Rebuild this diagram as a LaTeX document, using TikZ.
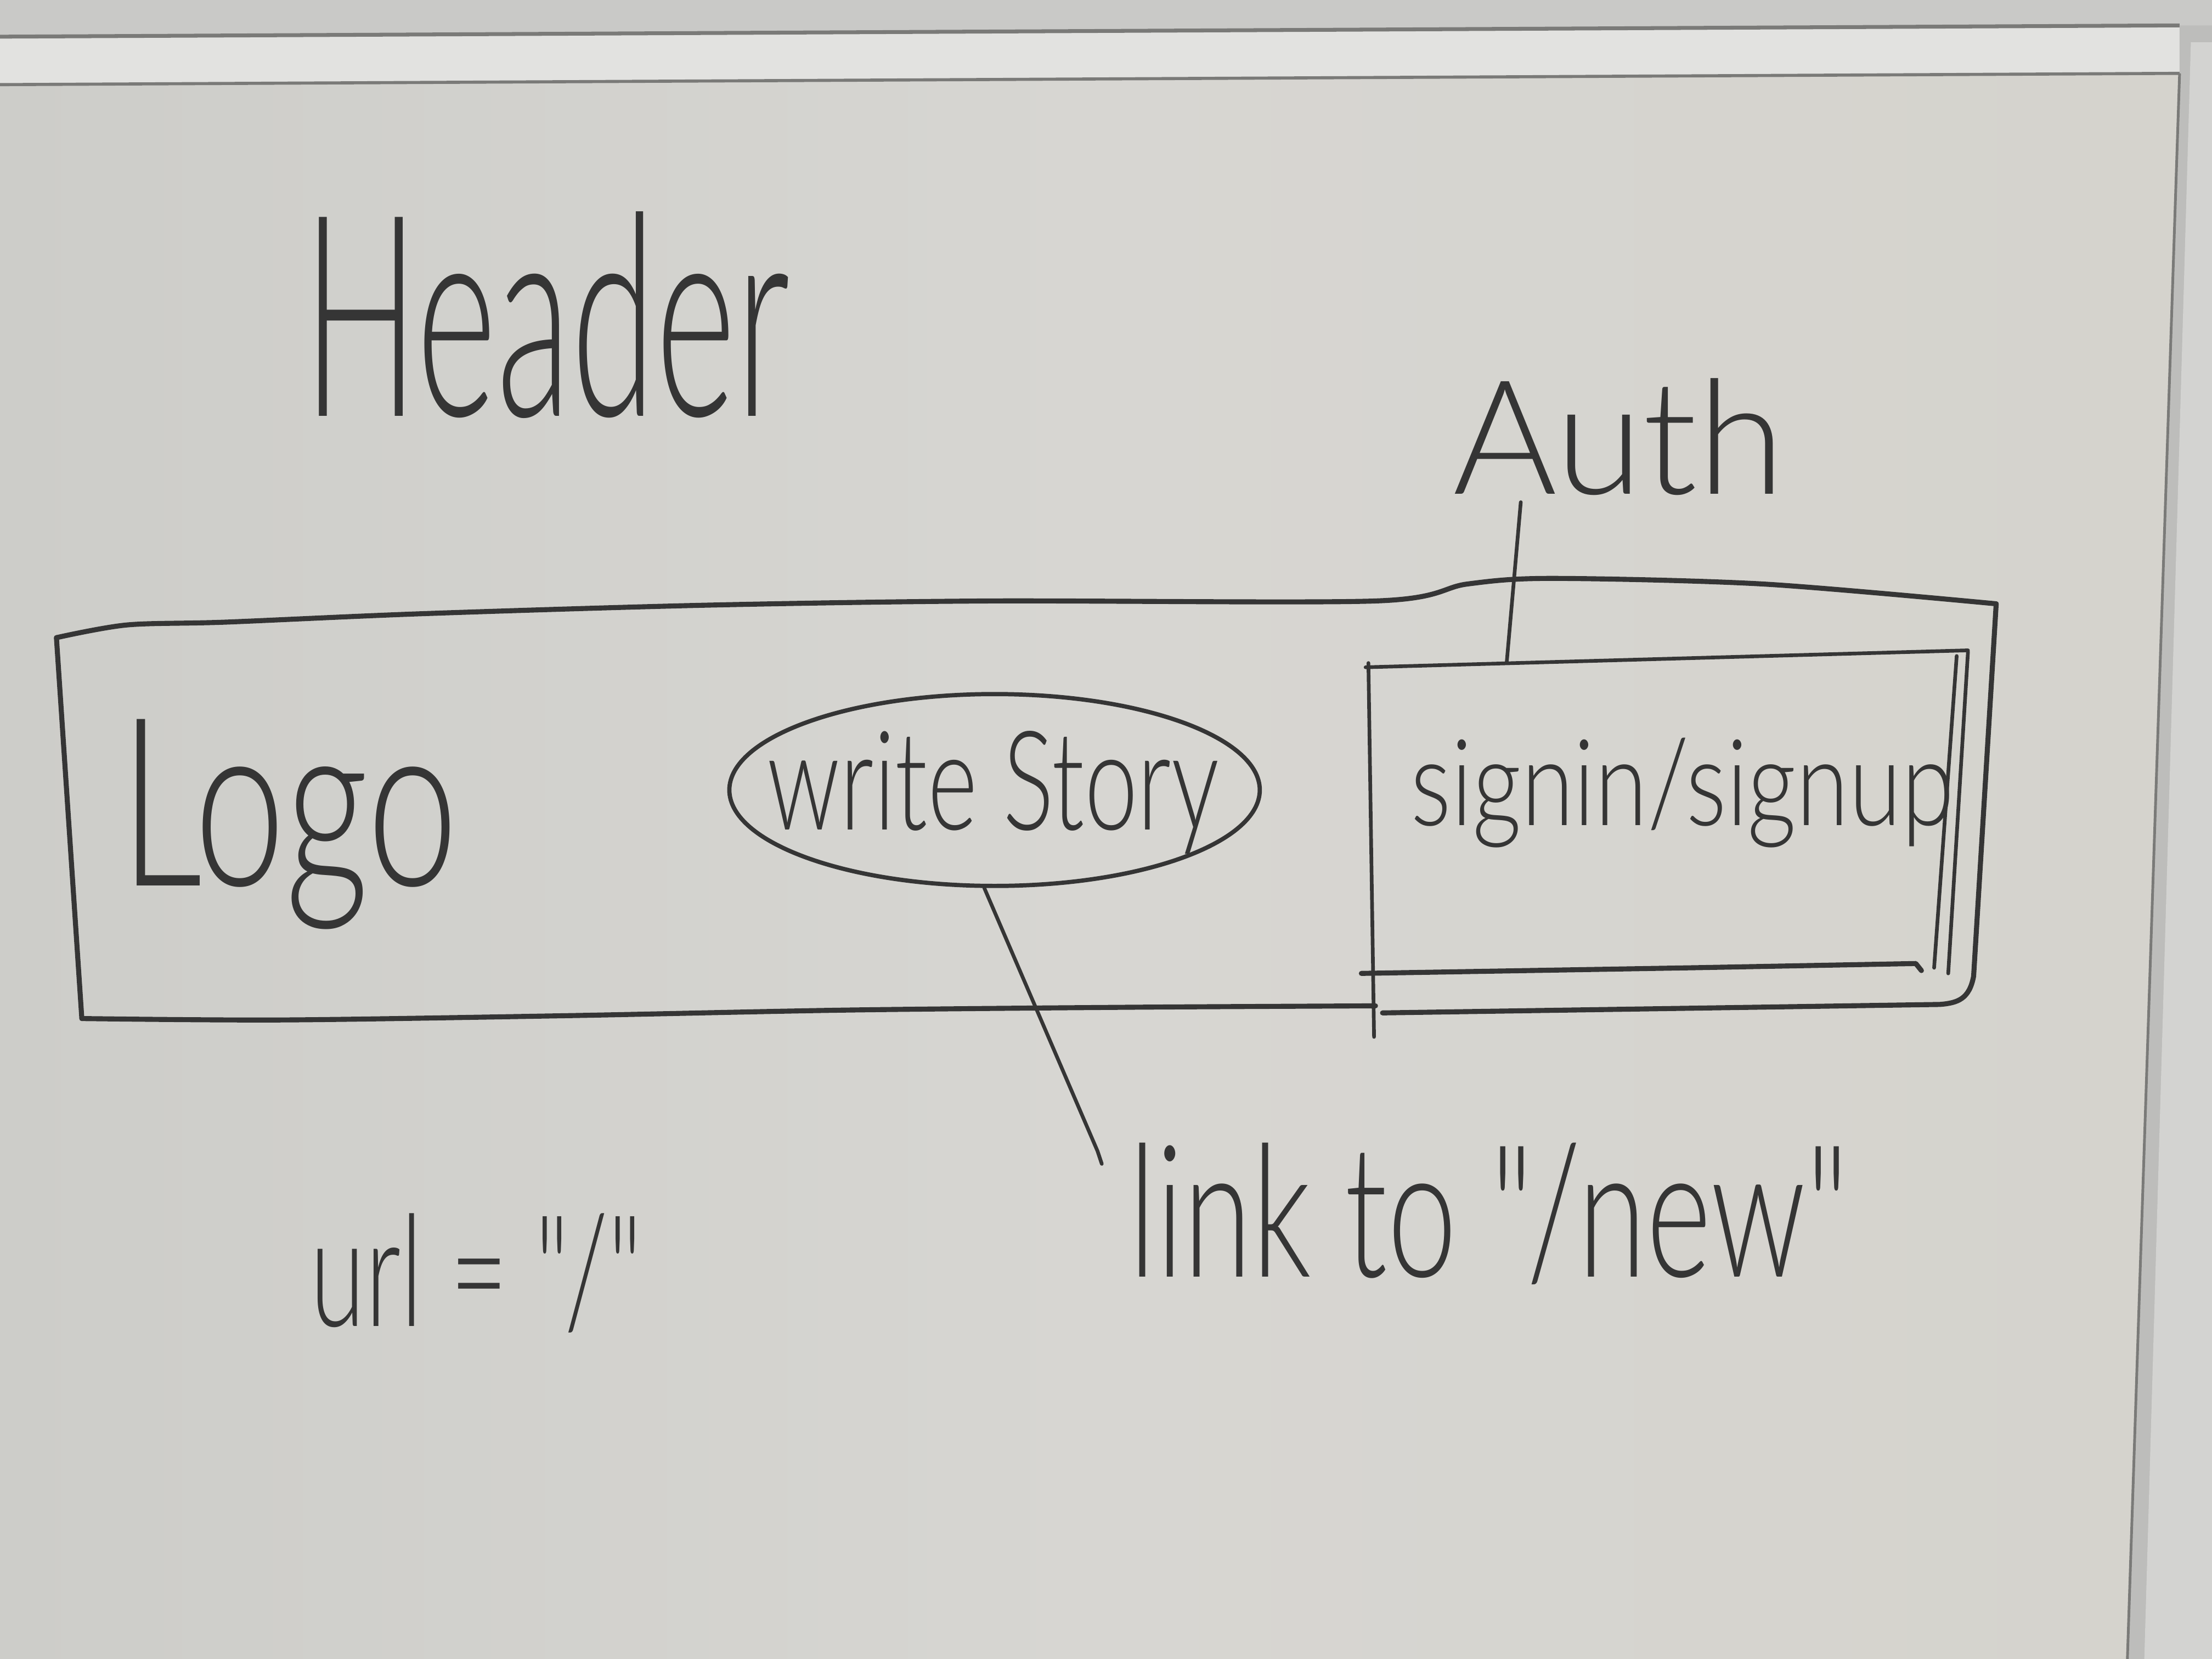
\documentclass[tikz,border=0pt]{standalone}
\usepackage{fontspec}
\usepackage{graphicx}
\setmainfont{Lato}[UprightFont=* Light, Ligatures=TeXOff]
\usetikzlibrary{shapes.geometric}
\newlength\px
\setlength\px{0.02571cm}
% handwritten word: width, height above baseline, text
\newcommand\hw[3]{\resizebox{#1\px}{#2\px}{\fontsize{#2}{#2}\selectfont #3}}
\definecolor{inkc}{HTML}{353535}
\definecolor{wallc}{HTML}{C9C9C7}
\definecolor{boardl}{HTML}{CDCDC9}
\definecolor{boardm}{HTML}{D7D6D2}
\definecolor{boardr}{HTML}{D5D3CD}
\definecolor{silver}{HTML}{E2E2E0}
\definecolor{framedk}{HTML}{7A7A78}
\definecolor{framer}{HTML}{BDBDBB}
\begin{document}
\begin{tikzpicture}[x=0.02571cm,y=-0.02571cm,
  ink/.style={draw=inkc, line width=2.6pt, line cap=round, line join=round},
  fine/.style={draw=inkc, line width=1.9pt, line cap=round, line join=round},
  hand/.style={inner sep=0pt, outer sep=0pt, anchor=base west, text=inkc}]
\useasboundingbox (0,0) rectangle (1568,1176);

% wall and whiteboard surface
\fill[wallc] (0,0) rectangle (1568,1176);
\shade[left color=boardl, right color=boardr, middle color=boardm]
  (0,60) -- (1545,52) -- (1508,1176) -- (0,1176) -- cycle;

% aluminium frame, top and right
\fill[silver] (0,26) -- (1545,18) -- (1545,52) -- (0,60) -- cycle;
\draw[framedk, line width=2pt] (0,26) -- (1545,18);
\draw[framedk, line width=1.6pt] (0,60) -- (1545,52);
\fill[framer] (1545,18) -- (1568,18) -- (1568,1176) -- (1508,1176) -- (1545,52) -- cycle;
\draw[framedk, line width=1.4pt] (1545,52) -- (1508,1176);
\fill[silver, opacity=0.6] (1553,30) -- (1568,30) -- (1568,1176) -- (1520,1176) -- cycle;

% outer header box
\draw[ink] plot[smooth, tension=0.5] coordinates
  {(40,452) (90,443) (160,441) (300,435) (500,429) (700,426) (975,426)
   (1040,414) (1100,410) (1250,414) (1415,428)};
\draw[ink] (40,452) -- (58,722);
\draw[ink] plot[smooth, tension=0.5] coordinates
  {(58,722) (200,723) (400,720) (600,716) (800,714) (975,713)};
\draw[ink] (1415,428) -- (1399,692) .. controls (1396,708) and (1388,711) .. (1375,712)
  -- (980,718);

% auth box
\coordinate (ibtl) at (968,473);
\coordinate (ibtr) at (1395,461);
\coordinate (ibtop) at (1068,470);
\draw[fine] (ibtl) -- (ibtr);
\draw[fine] (970,470) -- (974,735);
\draw[fine] (1395,462) -- (1381,690);
\draw[fine] (1387,465) -- (1371,686);
\draw[ink] (965,690) -- (1200,686) -- (1358,683) -- (1362,688);

% labels
\node[hand] (header) at (215,295) {\hw{345}{145}{Header}};
\node[hand] (auth) at (1030,350) {\hw{235}{82}{Auth}};
\node[hand] (logo) at (85,628) {\hw{240}{118}{Logo}};
\node[hand] (ws) at (544,588) {\hw{320}{70}{write Story}};
\node[hand] (sign) at (1000,585) {\hw{385}{62}{signin/signup}};
\node[hand] (link) at (800,905) {\hw{510}{95}{link to "/new"}};
\node[hand] (url) at (220,940) {\hw{235}{80}{url = "/"}};

% bubble round the button
\node[draw=inkc, line width=2.2pt, ellipse, minimum width=376\px,
  minimum height=136\px, inner sep=0pt] (bubble) at (705,560) {};

% callouts
\coordinate (authfoot) at (1078,356);
\draw[fine] (authfoot) -- (ibtop);
\coordinate (linkend) at (778,816);
\draw[fine] (bubble.264) -- (linkend) -- ++(3,9);
\end{tikzpicture}
\end{document}
